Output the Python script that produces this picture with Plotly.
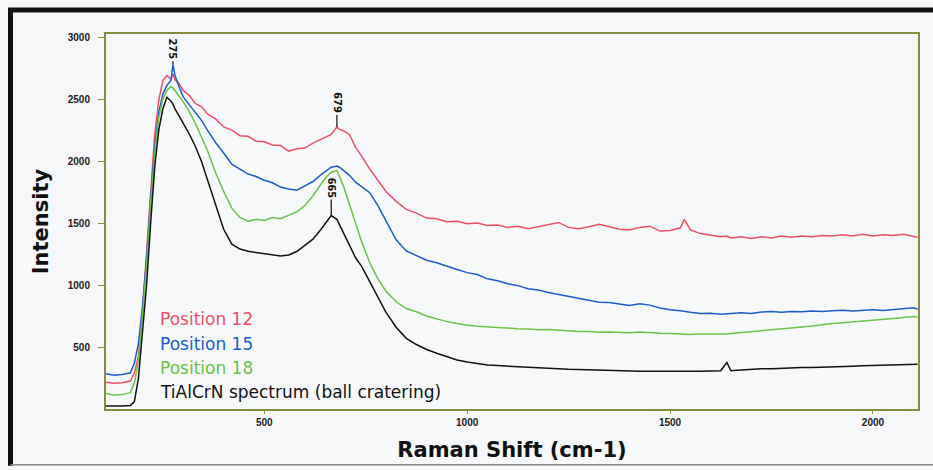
import plotly.graph_objects as go

# Raman shift axis (cm-1), shared by all spectra
wavenumber = [110, 130, 150, 170, 180, 190, 200, 210, 220, 230, 240, 250, 260, 270, 275, 280, 290, 300,
              315, 330, 345, 360, 380, 400, 420, 440, 460, 480, 500, 520, 540, 560, 580, 600,
              620, 640, 655, 665, 679, 685, 695, 710, 725, 740, 760, 780, 800, 825, 850, 875, 900, 925, 950, 975, 1000,
              1025, 1050, 1075, 1100, 1125, 1150, 1175, 1200, 1225, 1250, 1275, 1300, 1325, 1350, 1375, 1400,
              1425, 1450, 1475, 1500, 1525, 1535, 1550, 1575, 1600, 1625, 1640,
              1650, 1675, 1700, 1725, 1750, 1775, 1800, 1825, 1850, 1875, 1900, 1925, 1950, 1975, 2000,
              2025, 2050, 2075, 2100, 2110]

position_12 = [215, 208, 212, 225, 290, 430, 790, 1260, 1790, 2210, 2490, 2650, 2690, 2660, 2700, 2655, 2625, 2570,
               2530, 2465, 2440, 2380, 2340, 2275, 2250, 2205, 2200, 2160, 2155, 2130, 2125, 2080, 2100, 2105,
               2145, 2175, 2200, 2215, 2275, 2255, 2245, 2215, 2110, 2040, 1935, 1850, 1755, 1675, 1610, 1580, 1540, 1535, 1510, 1515, 1495,
               1500, 1480, 1485, 1465, 1475, 1455, 1470, 1485, 1505, 1465, 1455, 1470, 1490, 1470, 1450, 1445,
               1465, 1475, 1435, 1440, 1460, 1530, 1445, 1415, 1405, 1390, 1395,
               1380, 1390, 1375, 1390, 1380, 1395, 1385, 1395, 1390, 1400, 1395, 1405, 1395, 1410, 1395,
               1405, 1400, 1410, 1395, 1385]

position_15 = [285, 272, 278, 292, 370, 530, 830, 1210, 1700, 2110, 2390, 2540, 2610, 2650, 2780, 2690, 2600, 2520,
               2455, 2390, 2330, 2250, 2150, 2065, 1975, 1935, 1895, 1875, 1845, 1825, 1790, 1775, 1765, 1800,
               1835, 1890, 1925, 1950, 1960, 1950, 1925, 1885, 1830, 1795, 1745, 1640, 1515, 1365, 1275, 1235, 1200, 1180, 1150, 1125, 1100,
               1085, 1050, 1035, 1010, 995, 970, 960, 940, 925, 910, 890, 880, 862, 860, 848, 835,
               848, 838, 815, 800, 792, 785, 780, 770, 772, 765, 768,
               772, 776, 770, 782, 786, 780, 787, 784, 790, 786, 792, 796, 790, 797, 800,
               794, 802, 810, 816, 805]

position_18 = [125, 112, 116, 132, 210, 390, 760, 1160, 1660, 2060, 2350, 2500, 2570, 2600, 2590, 2565, 2525, 2480,
               2400, 2305, 2195, 2085, 1905, 1755, 1620, 1545, 1515, 1530, 1520, 1545, 1535, 1560, 1590, 1640,
               1720, 1815, 1880, 1910, 1925, 1880, 1800, 1650, 1500, 1350, 1180, 1050, 950, 865, 810, 785, 750, 725, 705, 690, 675,
               668, 662, 655, 652, 648, 645, 640, 642, 635, 632, 626, 625, 620, 622, 618, 616,
               621, 614, 611, 609, 606, 603, 601, 606, 604, 608, 606,
               610, 616, 620, 632, 640, 646, 652, 662, 670, 682, 690, 696, 702, 707, 716,
               722, 730, 738, 746, 740]

tialcrn = [25, 22, 24, 28, 60, 250, 600, 1000, 1500, 1950, 2250, 2420, 2515, 2485, 2460, 2420, 2365, 2310,
           2220, 2120, 2000, 1850, 1640, 1450, 1330, 1290, 1272, 1262, 1255, 1245, 1235, 1242, 1270, 1320,
           1370, 1450, 1520, 1560, 1530, 1490, 1420, 1310, 1220, 1150, 1030, 910, 780, 660, 570, 520, 480, 450, 420, 395, 380,
           365, 355, 350, 345, 340, 335, 330, 325, 322, 320, 318, 315, 312, 310, 308, 306,
           305, 305, 304, 305, 304, 305, 305, 305, 307, 309, 375,
           308, 314, 320, 324, 325, 329, 330, 334, 335, 339, 341, 344, 345, 348, 350,
           351, 355, 358, 362, 360]

series_names = ["Position 12", "Position 15", "Position 18", "TiAlCrN spectrum (ball cratering)"]
series_values = [position_12, position_15, position_18, tialcrn]
series_colors = ["#ee4f66", "#1c5dcb", "#6cc24a", "#111111"]

# peak markers: (wavenumber, spectrum index carrying the marker, label offset in px)
peak_marks = [(275, 1, -15), (679, 0, -24), (665, 3, -28)]

y_ticks = [500, 1000, 1500, 2000, 2500, 3000]
x_ticks = [500, 1000, 1500, 2000]

frame_color = "#878d3e"
bg = "#f6f8f9"

fig = go.Figure()
for name, vals, col in zip(series_names, series_values, series_colors):
    fig.add_trace(go.Scatter(x=wavenumber, y=vals, mode="lines", name=name,
                             line=dict(color=col, width=1.5), showlegend=False))

annotations = []
for wn, idx, off in peak_marks:
    yv = series_values[idx][wavenumber.index(wn)]
    annotations.append(dict(x=wn, y=yv, xref="x", yref="y", text=str(wn), textangle=90,
                            showarrow=True, arrowhead=0, arrowwidth=1.2, arrowcolor="#111",
                            ax=0, ay=off, font=dict(family="DejaVu Sans", size=10, color="#111", weight="bold")))

# in-plot colour-coded labels
label_y = [0.2387, 0.1724, 0.1088, 0.0451]
for name, col, ly in zip(series_names, series_colors, label_y):
    annotations.append(dict(x=0.064, y=ly, xref="paper", yref="paper", text=name, showarrow=False,
                            xanchor="left", yanchor="middle",
                            font=dict(family="DejaVu Sans", size=17, color=col)))

shapes = [
    dict(type="line", xref="paper", yref="paper", x0=-0.1207, x1=1.02, y0=1.0637, y1=1.0637,
         line=dict(color="#111", width=5)),
    dict(type="line", xref="paper", yref="paper", x0=-0.1176, x1=-0.1176, y0=1.069, y1=-0.1512,
         line=dict(color="#111", width=5)),
    dict(type="line", xref="paper", yref="paper", x0=-0.1176, x1=1.02, y0=-0.1485, y1=-0.1485,
         line=dict(color="#888", width=1.5)),
]

fig.update_layout(
    width=933, height=470,
    margin=dict(l=106, r=15, t=34, b=59),
    paper_bgcolor=bg, plot_bgcolor=bg,
    annotations=annotations, shapes=shapes,
    xaxis=dict(range=[110, 2111], tickvals=x_ticks, showgrid=False, zeroline=False,
               showline=True, linecolor=frame_color, linewidth=2, mirror=True,
               ticks="outside", ticklen=3, tickcolor=frame_color,
               tickfont=dict(family="Liberation Sans", size=10, color="#222", weight="bold"),
               title=dict(text="Raman Shift (cm-1)", standoff=15,
                          font=dict(family="DejaVu Sans", size=21, color="#111", weight="bold"))),
    yaxis=dict(range=[0, 3025], tickvals=y_ticks, showgrid=False, zeroline=False,
               showline=True, linecolor=frame_color, linewidth=2, mirror=True,
               ticks="outside", ticklen=6, tickcolor=frame_color, ticklabelstandoff=6,
               tickfont=dict(family="Liberation Sans", size=10, color="#222", weight="bold"),
               title=dict(text="Intensity", standoff=13,
                          font=dict(family="DejaVu Sans", size=21, color="#111", weight="bold"))),
)

fig.write_html("out.html")
